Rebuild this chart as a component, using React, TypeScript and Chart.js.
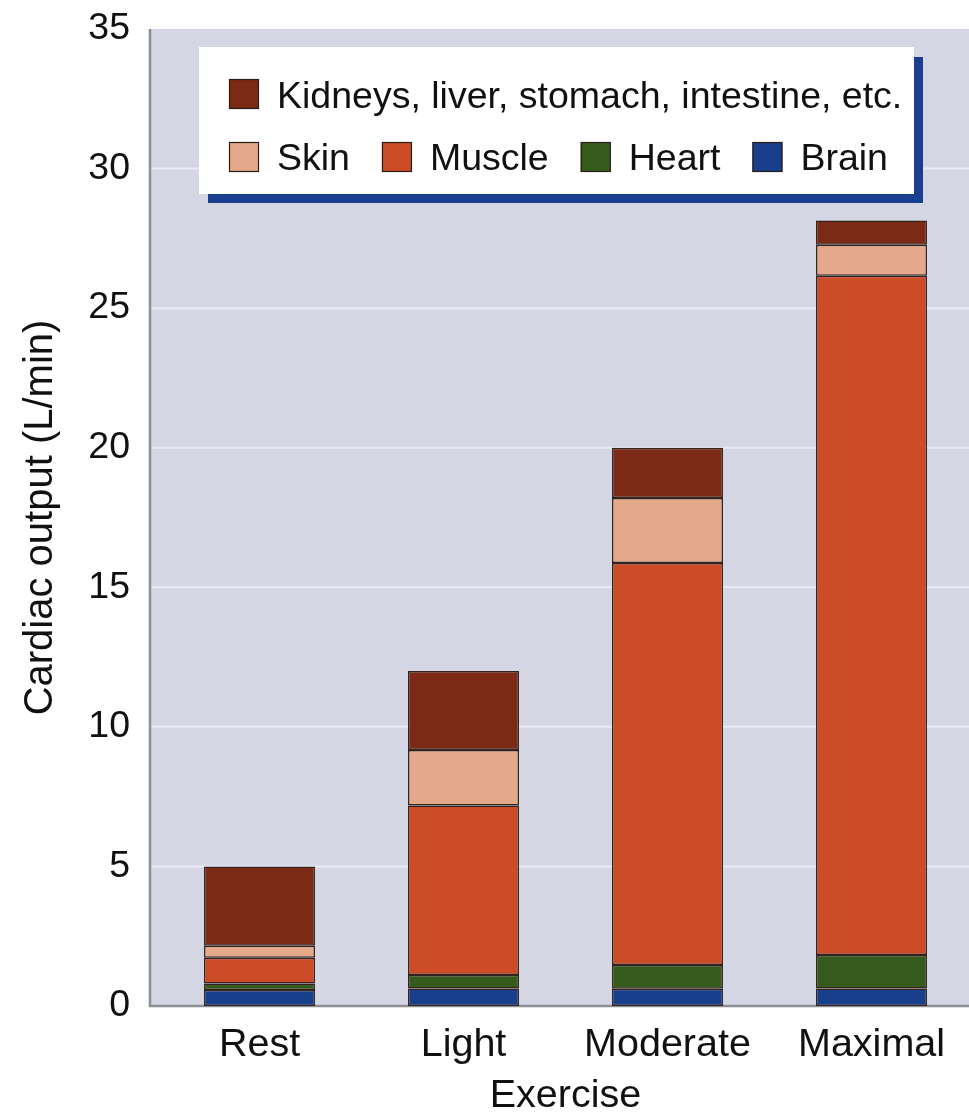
import React, { useEffect, useRef } from "react";
import { Chart, registerables } from "chart.js";

Chart.register(...registerables);

const categories = ["Rest", "Light", "Moderate", "Maximal"];
const seriesLabels = ["Brain", "Heart", "Muscle", "Skin", "Kidneys, liver, stomach, intestine, etc."];
const brain = [0.57, 0.63, 0.62, 0.63];
const heart = [0.24, 0.48, 0.85, 1.2];
const muscle = [0.92, 6.07, 14.4, 24.33];
const skin = [0.43, 1.99, 2.33, 1.11];
const kidneysEtc = [2.84, 2.83, 1.8, 0.87];
const seriesColors = ["#173f8c", "#345a1c", "#cc4c28", "#e4a98a", "#7b2a15"];
const yTicks = [0, 5, 10, 15, 20, 25, 30, 35];
const xTitle = "Exercise";
const yTitle = "Cardiac output (L/min)";

const FONT = "'Liberation Sans', Arial, Helvetica, sans-serif";
const FS = 37.5;
const FS_AX = 39.5;

const plotBgPlugin = {
  id: "plotBg",
  beforeDatasetsDraw(chart: any) {
    const { ctx, chartArea } = chart;
    const left = chartArea.left - 7.5;
    const { right, top, bottom } = chartArea;
    ctx.save();
    ctx.fillStyle = "#d4d6e4";
    ctx.fillRect(left, top, right - left, bottom - top);
    const ys = chart.scales.y;
    ctx.strokeStyle = "#e9eaf2";
    ctx.lineWidth = 2;
    yTicks.forEach((t) => {
      if (t === 0 || t === 35) return;
      const py = ys.getPixelForValue(t);
      ctx.beginPath();
      ctx.moveTo(left, py);
      ctx.lineTo(right, py);
      ctx.stroke();
    });
    ctx.strokeStyle = "#8d8e96";
    ctx.lineWidth = 2.5;
    ctx.beginPath();
    ctx.moveTo(left, top);
    ctx.lineTo(left, bottom);
    ctx.lineTo(right, bottom);
    ctx.stroke();
    ctx.restore();
  },
};

const legendPlugin = {
  id: "boxLegend",
  afterDraw(chart: any) {
    const { ctx } = chart;
    const ds = chart.data.datasets;
    ctx.save();
    ctx.fillStyle = "#1a3f8f";
    ctx.fillRect(208, 57, 715, 146);
    ctx.fillStyle = "#ffffff";
    ctx.fillRect(199, 47, 715, 147);
    ctx.font = `${FS}px ${FONT}`;
    ctx.textBaseline = "alphabetic";
    ctx.textAlign = "left";
    const rows = [[ds.length - 1], [3, 2, 1, 0]];
    const rowSwatchY = [79, 142];
    const rowBaseline = [108, 170];
    rows.forEach((row, ri) => {
      let x = 229;
      row.forEach((idx) => {
        const d = ds[idx];
        ctx.fillStyle = d.backgroundColor;
        ctx.fillRect(x, rowSwatchY[ri], 30, 30);
        ctx.strokeStyle = "#2a1d18";
        ctx.lineWidth = 1.2;
        ctx.strokeRect(x + 0.5, rowSwatchY[ri] + 0.5, 29, 29);
        ctx.fillStyle = "#111111";
        const tx = x + 48;
        ctx.fillText(d.label, tx, rowBaseline[ri]);
        x = tx + ctx.measureText(d.label).width + 32;
      });
    });
    ctx.restore();
  },
};

export default function App() {
  const ref = useRef<HTMLCanvasElement | null>(null);
  useEffect(() => {
    document.body.style.margin = "0";
    document.body.style.overflow = "hidden";
    document.documentElement.style.overflow = "hidden";
    const series = [brain, heart, muscle, skin, kidneysEtc];
    const chart = new Chart(ref.current as HTMLCanvasElement, {
      type: "bar",
      data: {
        labels: categories,
        datasets: series.map((vals, i) => ({
          label: seriesLabels[i],
          data: vals,
          backgroundColor: seriesColors[i],
          borderColor: "#33231c",
          borderWidth: 1.5,
          borderSkipped: false,
          barPercentage: 0.544,
          categoryPercentage: 1,
        })),
      },
      options: {
        animation: false,
        responsive: true,
        maintainAspectRatio: false,
        layout: { padding: { top: 29, right: 2.5, bottom: 0, left: 0 } },
        plugins: { legend: { display: false }, tooltip: { enabled: false } },
        scales: {
          x: {
            stacked: true,
            grid: { display: false, drawTicks: false },
            border: { display: false },
            ticks: { color: "#111", font: { family: FONT, size: FS_AX }, padding: 15 },
            title: { display: true, text: xTitle, color: "#111", font: { family: FONT, size: FS_AX }, padding: { top: 0, bottom: -7 } },
            afterFit: (s: any) => { s.height = 107; s.paddingLeft = 0; s.paddingRight = 0; },
          },
          y: {
            stacked: true,
            min: 0,
            max: 35,
            afterBuildTicks: (s: any) => { s.ticks = yTicks.map((v) => ({ value: v })); },
            grid: { display: false, drawTicks: false },
            border: { display: false },
            ticks: { color: "#111", font: { family: FONT, size: FS }, padding: 27.5 },
            title: { display: true, text: yTitle, color: "#111", font: { family: FONT, size: 40 }, padding: { top: 17, bottom: 0 } },
            afterFit: (s: any) => { s.width = 157.5; s.paddingTop = 0; s.paddingBottom = 0; },
          },
        },
      },
      plugins: [plotBgPlugin, legendPlugin],
    });
    return () => chart.destroy();
  }, []);
  return (
    <div style={{ width: 976, height: 1113, position: "relative" }}>
      <canvas ref={ref} />
    </div>
  );
}
